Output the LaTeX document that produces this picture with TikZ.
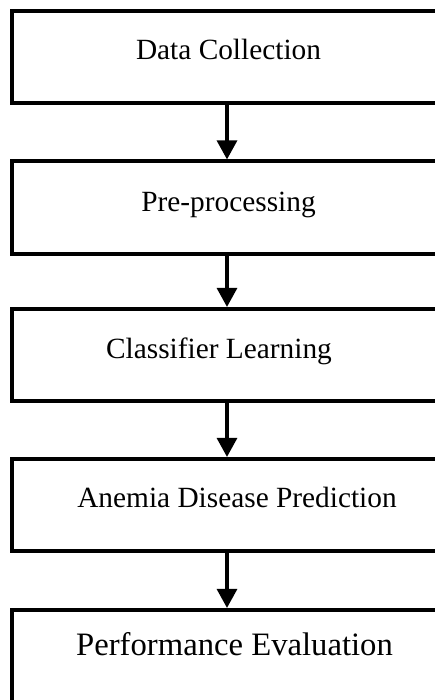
\documentclass[tikz,border=0pt]{standalone}
\usepackage{fontspec}
\setmainfont{Liberation Serif}
\usepackage{tikz}
\usetikzlibrary{arrows.meta}

\begin{document}
\begin{tikzpicture}[x=0.02cm,y=-0.02cm,
    stage/.style={rectangle,draw,line width=2.1pt,minimum width=8.6cm,minimum height=1.85cm,inner sep=0pt},
    flow/.style={line width=1.8pt,-{Triangle[width=0.4cm,length=0.38cm]}},
    lbl/.style={anchor=base,inner sep=0pt,font=\fontsize{16.7}{20}\selectfont}]
    \useasboundingbox (0,0) rectangle (435,700);

    \node[stage] (s1) at (227,57) {};
    \node[stage] (s2) at (227,207.5) {};
    \node[stage] (s3) at (227,355) {};
    \node[stage] (s4) at (227,505) {};
    \node[stage] (s5) at (227,656) {};

    \draw[flow] (s1.south)--(s2.north);
    \draw[flow] (s2.south)--(s3.north);
    \draw[flow] (s3.south)--(s4.north);
    \draw[flow] (s4.south)--(s5.north);

    \node[lbl] (l1) at (228.5,59) {Data Collection};
    \node[lbl] (l2) at (228.5,211) {Pre-processing};
    \node[lbl] (l3) at (219,358) {Classifier Learning};
    \node[lbl] (l4) at (237,507) {Anemia Disease Prediction};
    \node[lbl,font=\fontsize{18.6}{22}\selectfont] (l5) at (234.5,655) {Performance Evaluation};
\end{tikzpicture}
\end{document}
